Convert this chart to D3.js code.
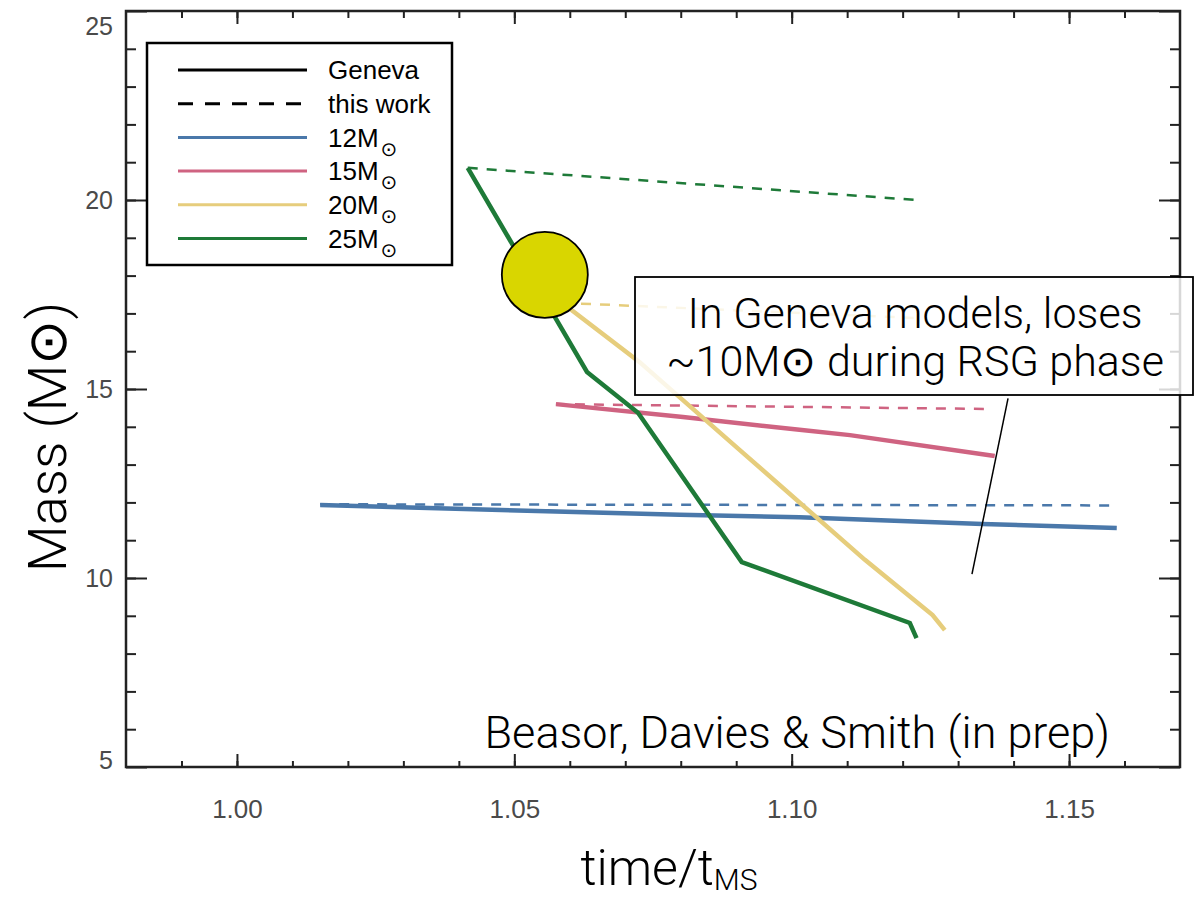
<!DOCTYPE html>
<html>
<head>
<meta charset="utf-8">
<script src="https://cdn.jsdelivr.net/npm/d3@7"></script>
<style>
body { margin: 0; background: #fff; }
.tick text { font-family: "Liberation Sans", Arial, sans-serif; fill: #4a4a4a; }
.light { font-family: Roboto, "Open Sans", sans-serif; font-weight: 300; }
</style>
</head>
<body>
<script>
// axis ticks
var xMajor = [1.00, 1.05, 1.10, 1.15];
var yMajor = [5, 10, 15, 20, 25];

// 12 Msun
var t12g = [1.015, 1.0798, 1.1014, 1.1344, 1.1586];
var m12g = [11.93, 11.67, 11.61, 11.43, 11.32];
var t12w = [1.015, 1.1585];
var m12w = [11.95, 11.92];
// 15 Msun
var t15g = [1.0575, 1.0804, 1.1014, 1.1105, 1.1366];
var m15g = [14.60, 14.26, 13.92, 13.78, 13.23];
var t15w = [1.0575, 1.136];
var m15w = [14.60, 14.47];
// 20 Msun
var t20g = [1.0586, 1.0726, 1.0906, 1.1132, 1.1254, 1.1276];
var m20g = [17.28, 15.71, 13.39, 10.48, 9.02, 8.62];
var t20w = [1.0586, 1.1222];
var m20w = [17.28, 16.88];
// 25 Msun
var t25g = [1.0416, 1.0631, 1.0723, 1.0910, 1.1213, 1.1225];
var m25g = [20.85, 15.45, 14.37, 10.42, 8.81, 8.41];
var t25w = [1.0416, 1.1225];
var m25w = [20.85, 20.0];

// highlighted star
var starT = 1.0555, starM = 18.02;

var w = 1195, h = 899;
var svg = d3.select("body").append("svg")
	.attr("width", w)
	.attr("height", h);

var x = d3.scaleLinear().domain([0.98, 1.17]).range([126, 1180]);
var y = d3.scaleLinear().domain([5, 25]).range([767, 11]);

var colors = { 12: "#4a78aa", 15: "#cf6381", 20: "#e6cd7c", 25: "#1e7a38" };

var series = [
	{ t: t12g, m: m12g, c: colors[12], dash: false },
	{ t: t12w, m: m12w, c: colors[12], dash: true },
	{ t: t15g, m: m15g, c: colors[15], dash: false },
	{ t: t15w, m: m15w, c: colors[15], dash: true },
	{ t: t20g, m: m20g, c: colors[20], dash: false },
	{ t: t20w, m: m20w, c: colors[20], dash: true },
	{ t: t25g, m: m25g, c: colors[25], dash: false },
	{ t: t25w, m: m25w, c: colors[25], dash: true }
];

var line = d3.line()
	.x(function(d) { return x(d[0]); })
	.y(function(d) { return y(d[1]); });

// dashed first, solid on top
svg.selectAll("path.track")
	.data(series.slice().sort(function(a, b) { return b.dash - a.dash; }))
	.enter()
	.append("path")
	.attr("class", "track")
	.attr("d", function(s) { return line(d3.zip(s.t, s.m)); })
	.attr("fill", "none")
	.attr("stroke", function(s) { return s.c; })
	.attr("stroke-width", function(s) { return s.dash ? 2.5 : 4.5; })
	.attr("stroke-dasharray", function(s) { return s.dash ? "10,9" : null; });

// axes
function styleAxis(g) {
	g.select(".domain").remove();
	g.selectAll(".tick line").attr("stroke", "#222").attr("stroke-width", 2);
}
var xMinor = d3.range(99, 117).map(function(d) { return d / 100; });
var yMinor = d3.range(6, 25);

svg.append("g").attr("transform", "translate(0,767)")
	.call(d3.axisBottom(x).tickValues(xMinor).tickSizeInner(-6).tickSizeOuter(0).tickFormat(""))
	.call(styleAxis);
svg.append("g").attr("transform", "translate(0,767)")
	.call(d3.axisBottom(x).tickValues(xMajor).tickSizeInner(-13).tickSizeOuter(0).tickPadding(33).tickFormat(d3.format(".2f")))
	.call(styleAxis)
	.selectAll("text").attr("font-size", 26);
svg.append("g").attr("transform", "translate(0,11)")
	.call(d3.axisTop(x).tickValues(xMinor).tickSizeInner(-7).tickSizeOuter(0).tickFormat(""))
	.call(styleAxis);
svg.append("g").attr("transform", "translate(0,11)")
	.call(d3.axisTop(x).tickValues(xMajor).tickSizeInner(-13).tickSizeOuter(0).tickFormat(""))
	.call(styleAxis);

svg.append("g").attr("transform", "translate(126,0)")
	.call(d3.axisLeft(y).tickValues(yMinor).tickSizeInner(-10).tickSizeOuter(0).tickFormat(""))
	.call(styleAxis);
svg.append("g").attr("transform", "translate(126,0)")
	.call(d3.axisLeft(y).tickValues(yMajor).tickSizeInner(-21).tickSizeOuter(0).tickPadding(13))
	.call(styleAxis)
	.selectAll("text")
	.attr("font-size", 25)
	.attr("y", function(d) { return Math.min(Math.max(y(d), 26), 760) - y(d); });
svg.append("g").attr("transform", "translate(1180,0)")
	.call(d3.axisRight(y).tickValues(yMinor).tickSizeInner(-10).tickSizeOuter(0).tickFormat(""))
	.call(styleAxis);
svg.append("g").attr("transform", "translate(1180,0)")
	.call(d3.axisRight(y).tickValues(yMajor).tickSizeInner(-21).tickSizeOuter(0).tickFormat(""))
	.call(styleAxis);

svg.append("rect")
	.attr("x", x(0.98)).attr("y", y(25))
	.attr("width", x(1.17) - x(0.98)).attr("height", y(5) - y(25))
	.attr("fill", "none").attr("stroke", "#222").attr("stroke-width", 2.5);

// legend
var legendItems = [
	{ label: "Geneva", c: "#000", dash: false },
	{ label: "this work", c: "#000", dash: true },
	{ label: "12M", c: colors[12], sun: true },
	{ label: "15M", c: colors[15], sun: true },
	{ label: "20M", c: colors[20], sun: true },
	{ label: "25M", c: colors[25], sun: true }
];
var legend = svg.append("g").attr("transform", "translate(147,43)");
legend.append("rect")
	.attr("width", 305).attr("height", 222)
	.attr("fill", "#fff").attr("stroke", "#000").attr("stroke-width", 2.5);
var rows = legend.selectAll("g.row")
	.data(legendItems)
	.enter().append("g")
	.attr("class", "row")
	.attr("transform", function(d, i) { return "translate(0," + (27 + i * 33.7) + ")"; });
rows.append("line")
	.attr("x1", 31).attr("x2", 160)
	.attr("stroke", function(d) { return d.c; })
	.attr("stroke-width", 3)
	.attr("stroke-dasharray", function(d) { return d.dash ? "15,12" : null; });
var lt = rows.append("text")
	.attr("x", 181).attr("dy", "0.36em")
	.attr("font-family", "'Liberation Sans', Arial, sans-serif")
	.attr("font-size", 26)
	.text(function(d) { return d.label; });
lt.filter(function(d) { return d.sun; })
	.append("tspan")
	.attr("font-family", "'DejaVu Sans', sans-serif")
	.attr("font-size", 20)
	.attr("dx", 2)
	.attr("dy", 9)
	.text("\u2299");

// star
svg.append("circle")
	.attr("cx", x(starT)).attr("cy", y(starM)).attr("r", 43)
	.attr("fill", "#d9d600").attr("stroke", "#000").attr("stroke-width", 1.8);

// annotation
svg.append("line")
	.attr("x1", x(1.139)).attr("y1", y(14.75))
	.attr("x2", x(1.1325)).attr("y2", y(10.1))
	.attr("stroke", "#000").attr("stroke-width", 1.5);
svg.append("rect")
	.attr("x", 635).attr("y", 277).attr("width", 558).attr("height", 118)
	.attr("fill", "#fff").attr("fill-opacity", 0.82)
	.attr("stroke", "#000").attr("stroke-width", 1.8);
var noteLines = ["In Geneva models, loses", "~10M\u2299 during RSG phase"];
svg.selectAll("text.note")
	.data(noteLines)
	.enter().append("text")
	.attr("class", "note light")
	.attr("x", 915)
	.attr("y", function(d, i) { return 328 + i * 48; })
	.attr("text-anchor", "middle")
	.attr("font-size", 43)
	.text(function(d) { return d; });

svg.append("text")
	.attr("class", "light")
	.attr("x", 1110).attr("y", 748)
	.attr("text-anchor", "end")
	.attr("font-size", 45)
	.text("Beasor, Davies & Smith (in prep)");

// axis titles
svg.append("text")
	.attr("class", "light")
	.attr("transform", "translate(66,437) rotate(-90)")
	.attr("text-anchor", "middle")
	.attr("font-size", 54)
	.text("Mass (M\u2299)");
var xt = svg.append("text")
	.attr("class", "light")
	.attr("x", 669).attr("y", 885)
	.attr("text-anchor", "middle")
	.attr("font-size", 50)
	.text("time/t");
xt.append("tspan").attr("font-size", 30).attr("dy", 5).text("MS");
</script>
</body>
</html>
